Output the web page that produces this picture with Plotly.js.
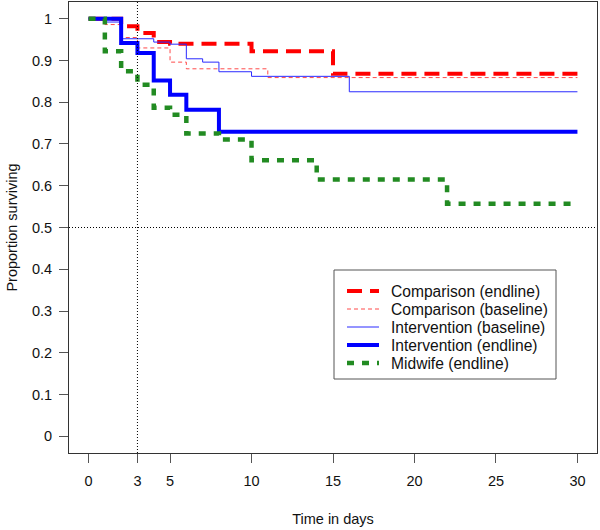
<!DOCTYPE html>
<html>
<head>
<meta charset="utf-8">
<script src="https://cdn.plot.ly/plotly-3.0.1.min.js"></script>
<style>
  html, body { margin: 0; padding: 0; background: #fff; }
  #chart { width: 600px; height: 530px; }
</style>
</head>
<body>
<div id="chart"></div>
<script>
// Kaplan-Meier style survival curves.
const seriesNames = [
  'Comparison (endline)',
  'Comparison (baseline)',
  'Intervention (baseline)',
  'Intervention (endline)',
  'Midwife (endline)'
];

const compEndDays = [0, 2, 3, 4, 5, 10, 15, 30];
const compEndSurv = [1, 0.982, 0.966, 0.944, 0.940, 0.922, 0.868, 0.868];

const compBaseDays = [0, 1, 2, 3, 5, 6, 11, 30];
const compBaseSurv = [1, 0.986, 0.955, 0.930, 0.896, 0.880, 0.859, 0.859];

const intBaseDays = [0, 1, 2, 4, 5, 6, 7, 8, 10, 16, 30];
const intBaseSurv = [1, 0.992, 0.952, 0.944, 0.939, 0.904, 0.896, 0.873, 0.862, 0.825, 0.825];

const intEndDays = [0, 2, 3, 4, 5, 6, 8, 30];
const intEndSurv = [1, 0.942, 0.918, 0.852, 0.818, 0.782, 0.729, 0.729];

const midwifeDays = [0, 1, 2, 3, 4, 5, 6, 8, 10, 14, 22, 30];
const midwifeSurv = [1, 0.922, 0.874, 0.842, 0.787, 0.770, 0.725, 0.711, 0.661, 0.615, 0.557, 0.557];

const xTicks = [0, 3, 5, 10, 15, 20, 25, 30];
const yTicks = [0, 0.1, 0.2, 0.3, 0.4, 0.5, 0.6, 0.7, 0.8, 0.9, 1];
const yTickText = ['0', '0.1', '0.2', '0.3', '0.4', '0.5', '0.6', '0.7', '0.8', '0.9', '1'];

const refDay = 3;
const refSurv = 0.5;

// ---- styles ----
const styles = [
  { color: '#ff0000', width: 4, dash: '15px,8px' },
  { color: '#ff4a4a', width: 1, dash: '4px,3px' },
  { color: '#2a2aff', width: 1, dash: 'solid' },
  { color: '#0000ff', width: 4, dash: 'solid' },
  { color: '#228b22', width: 4.5, dash: '7px,8px' }
];
const xs = [compEndDays, compBaseDays, intBaseDays, intEndDays, midwifeDays];
const ys = [compEndSurv, compBaseSurv, intBaseSurv, intEndSurv, midwifeSurv];

const data = seriesNames.map((name, i) => ({
  x: xs[i], y: ys[i], name, type: 'scatter', mode: 'lines',
  line: { shape: 'hv', color: styles[i].color, width: styles[i].width, dash: styles[i].dash },
  showlegend: false, hoverinfo: 'skip'
}));

// plot area geometry (pixels) used to place the hand-made legend box
const M = { l: 69, r: 3, t: 2, b: 77 };
const xRange = [-1.2, 31.2];
const yRange = [-0.04, 1.04];
const plotW = 600 - M.l - M.r, plotH = 530 - M.t - M.b;
const pxX = (px) => xRange[0] + (px - M.l) / plotW * (xRange[1] - xRange[0]);
const pxY = (py) => yRange[1] - (py - M.t) / plotH * (yRange[1] - yRange[0]);

const font = 'Liberation Sans, Arial, sans-serif';
const shapes = [
  { type: 'line', xref: 'x', yref: 'paper', x0: refDay, x1: refDay, y0: 0, y1: 1,
    line: { color: '#000', width: 1, dash: '1px,2px' } },
  { type: 'line', xref: 'paper', yref: 'y', x0: 0, x1: 1, y0: refSurv, y1: refSurv,
    line: { color: '#000', width: 1, dash: '1px,2px' } },
  { type: 'rect', xref: 'x', yref: 'y', x0: pxX(334), x1: pxX(556), y0: pxY(270), y1: pxY(379),
    line: { color: '#555', width: 1 }, fillcolor: 'rgba(255,255,255,0)' }
];
const annotations = [];
const rowY = [291, 309, 327, 345, 363];
seriesNames.forEach((name, i) => {
  shapes.push({ type: 'line', xref: 'x', yref: 'y', x0: pxX(347), x1: pxX(379), y0: pxY(rowY[i]), y1: pxY(rowY[i]),
    line: { color: styles[i].color, width: styles[i].width, dash: styles[i].dash } });
  annotations.push({ xref: 'x', yref: 'y', x: pxX(389), y: pxY(rowY[i]), text: name, showarrow: false,
    xanchor: 'left', yanchor: 'middle', font: { family: font, size: 15.6, color: '#111' } });
});

const axisCommon = {
  showgrid: false, zeroline: false, showline: true, mirror: true, linecolor: '#333', linewidth: 1,
  ticks: 'outside', ticklen: 9, tickcolor: '#555', tickwidth: 1, fixedrange: true,
  tickfont: { family: font, size: 14.5, color: '#111' }
};

const layout = {
  width: 600, height: 530,
  margin: M,
  paper_bgcolor: '#fff', plot_bgcolor: '#fff',
  font: { family: font, color: '#111' },
  xaxis: Object.assign({}, axisCommon, {
    range: xRange, tickvals: xTicks, ticktext: xTicks.map(String), ticklabelstandoff: 6,
    title: { text: 'Time in days', font: { family: font, size: 14.5, color: '#111' }, standoff: 25 }
  }),
  yaxis: Object.assign({}, axisCommon, {
    range: yRange, tickvals: yTicks, ticktext: yTickText, ticklabelstandoff: 4,
    title: { text: 'Proportion surviving', font: { family: font, size: 14.5, color: '#111' }, standoff: 10 }
  }),
  shapes, annotations,
  showlegend: false
};

Plotly.newPlot('chart', data, layout, { displayModeBar: false, staticPlot: true });
</script>
</body>
</html>
